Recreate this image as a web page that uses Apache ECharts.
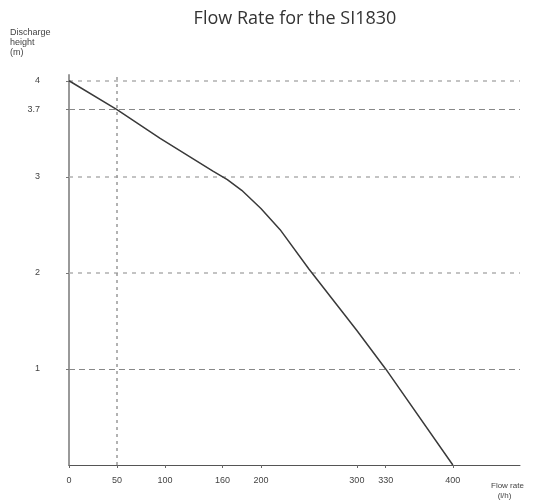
<!DOCTYPE html>
<html>
<head>
<meta charset="utf-8">
<script src="https://cdn.jsdelivr.net/npm/echarts@6/dist/echarts.min.js"></script>
<style>html,body{margin:0;padding:0;background:#fff;}#c{width:541px;height:503px;}</style>
</head>
<body>
<div id="c"></div>
<script>
const titleText = 'Flow Rate for the SI1830';
const flowRate = [0, 50, 95, 150, 165, 180, 200, 220, 250, 300, 330, 400];
const dischargeHeight = [4, 3.7, 3.4, 3.06, 2.97, 2.86, 2.67, 2.45, 2.04, 1.4, 1.0, 0];
const xTicks = [0, 50, 100, 160, 200, 300, 330, 400];
const yTicks = [1, 2, 3, 3.7, 4];
const dottedRows = [2, 3, 4];
const dashedRows = [1, 3.7];
const markedFlow = 50;

const chart = echarts.init(document.getElementById('c'));
const labelStyle = { color: '#444', fontSize: 9, fontFamily: 'Liberation Sans, Arial, sans-serif' };
chart.setOption({
  animation: false,
  backgroundColor: '#fff',
  title: {
    text: titleText, left: 290, top: 5, textAlign: 'center',
    textStyle: { fontSize: 18, fontWeight: 'normal', color: '#333', fontFamily: 'Open Sans, sans-serif' }
  },
  grid: { left: 69, right: 21, top: 75, bottom: 38 },
  xAxis: {
    type: 'value', min: 0, max: 470,
    axisLine: { show: true, lineStyle: { color: '#555', width: 1 } },
    axisTick: { show: true, customValues: xTicks, length: 3, inside: false, lineStyle: { color: '#666' } },
    axisLabel: { customValues: xTicks, margin: 11, ...labelStyle },
    splitLine: { show: false }
  },
  yAxis: {
    type: 'value', min: 0, max: 4.06,
    axisLine: { show: true, lineStyle: { color: '#999', width: 2 } },
    axisTick: { show: true, customValues: yTicks, length: 3, lineStyle: { color: '#777' } },
    axisLabel: { customValues: yTicks, margin: 29, ...labelStyle },
    splitLine: { show: false }
  },
  graphic: [
    { type: 'text', left: 10, top: 28, style: { text: 'Discharge\nheight\n(m)', fill: '#444', fontSize: 9, lineHeight: 10, fontFamily: 'Liberation Sans, Arial, sans-serif' } },
    { type: 'text', left: 491, top: 481, style: { text: 'Flow rate\n   (l/h)', fill: '#444', fontSize: 8, lineHeight: 10, fontFamily: 'Liberation Sans, Arial, sans-serif' } }
  ],
  series: [
    {
      type: 'line', data: flowRate.map((x, i) => [x, dischargeHeight[i]]),
      showSymbol: false, smooth: false,
      lineStyle: { color: '#3a3a3a', width: 1.5 },
      z: 5,
      markLine: {
        silent: true, symbol: 'none', label: { show: false },
        data: [
          ...dottedRows.map(v => ({ yAxis: v, lineStyle: { type: [4, 5], color: '#b0b0b0', width: 1.5 } })),
          ...dashedRows.map(v => ({ yAxis: v, lineStyle: { type: [6, 4], color: '#888', width: 1 } })),
          { xAxis: markedFlow, lineStyle: { type: [3, 4], color: '#999', width: 1.5 } }
        ]
      }
    }
  ]
});
</script>
</body>
</html>
